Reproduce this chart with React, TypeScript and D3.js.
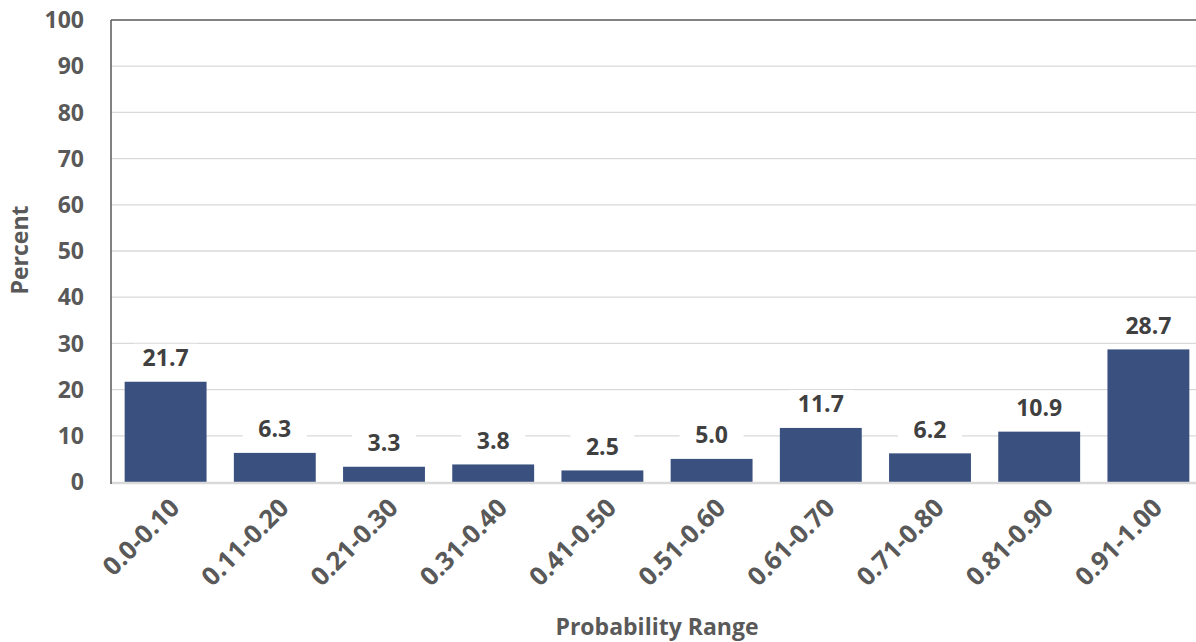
import React from "react";
import * as d3 from "d3";

const categories = ["0.0-0.10", "0.11-0.20", "0.21-0.30", "0.31-0.40", "0.41-0.50", "0.51-0.60", "0.61-0.70", "0.71-0.80", "0.81-0.90", "0.91-1.00"];
const percents = [21.7, 6.3, 3.3, 3.8, 2.5, 5.0, 11.7, 6.2, 10.9, 28.7];
const yTicks = [0, 10, 20, 30, 40, 50, 60, 70, 80, 90, 100];

const W = 1196, H = 642;
const left = 111, right = 1203, top = 20, bottom = 482;
const FONT = "'Open Sans', sans-serif";

export default function App() {
  const x = d3.scaleBand<string>().domain(categories).range([left, right]).paddingInner(0.25).paddingOuter(0.125);
  const y = d3.scaleLinear().domain([0, 100]).range([bottom, top]);
  return (
    <svg width={W} height={H} style={{ position: "absolute", left: 0, top: 0 }}>
      <rect width={W} height={H} fill="#fff" />
      {yTicks.filter(t => t > 0 && t < 100).map(t => (
        <line key={t} x1={left} x2={right} y1={y(t)} y2={y(t)} stroke="#d9d9d9" strokeWidth={1.3} />
      ))}
      <line x1={left} x2={right} y1={y(100)} y2={y(100)} stroke="#595959" strokeWidth={1.5} />
      {categories.map((c, i) => (
        <rect key={c} x={x(c)} y={y(percents[i])} width={x.bandwidth()} height={bottom - y(percents[i])} fill="#3a5180" />
      ))}
      <line x1={left} x2={right} y1={bottom + 1} y2={bottom + 1} stroke="#d9d9d9" strokeWidth={2.5} />
      <line x1={left} x2={left} y1={top} y2={bottom + 2} stroke="#595959" strokeWidth={1.5} />
      {yTicks.map(t => (
        <text key={t} x={84} y={y(t)} dy="0.36em" textAnchor="end" fontFamily={FONT} fontWeight={700} fontSize={23} fill="#595959">{t}</text>
      ))}
      {categories.map((c, i) => {
        const cx = x(c)! + x.bandwidth() / 2;
        const ly = y(percents[i]) - 24;
        return (
          <g key={c}>
            <rect x={cx - 32} y={ly - 14} width={64} height={28} fill="#fff" />
            <text x={cx} y={ly} dy="0.36em" textAnchor="middle" fontFamily={FONT} fontWeight={700} fontSize={23} fill="#404040">{percents[i].toFixed(1)}</text>
          </g>
        );
      })}
      {categories.map(c => {
        const cx = x(c)! + x.bandwidth() / 2 + 9;
        const cy = 503;
        return (
          <text key={c} transform={`translate(${cx},${cy}) rotate(-45)`} textAnchor="end" dy="0.36em" fontFamily={FONT} fontWeight={700} fontSize={25.5} fill="#595959">{c}</text>
        );
      })}
      <text x={657} y={627} dy="0.36em" textAnchor="middle" fontFamily={FONT} fontWeight={700} fontSize={23} fill="#595959">Probability Range</text>
      <text transform={`translate(20,250) rotate(-90)`} dy="0.36em" textAnchor="middle" fontFamily={FONT} fontWeight={700} fontSize={23} fill="#595959">Percent</text>
    </svg>
  );
}
